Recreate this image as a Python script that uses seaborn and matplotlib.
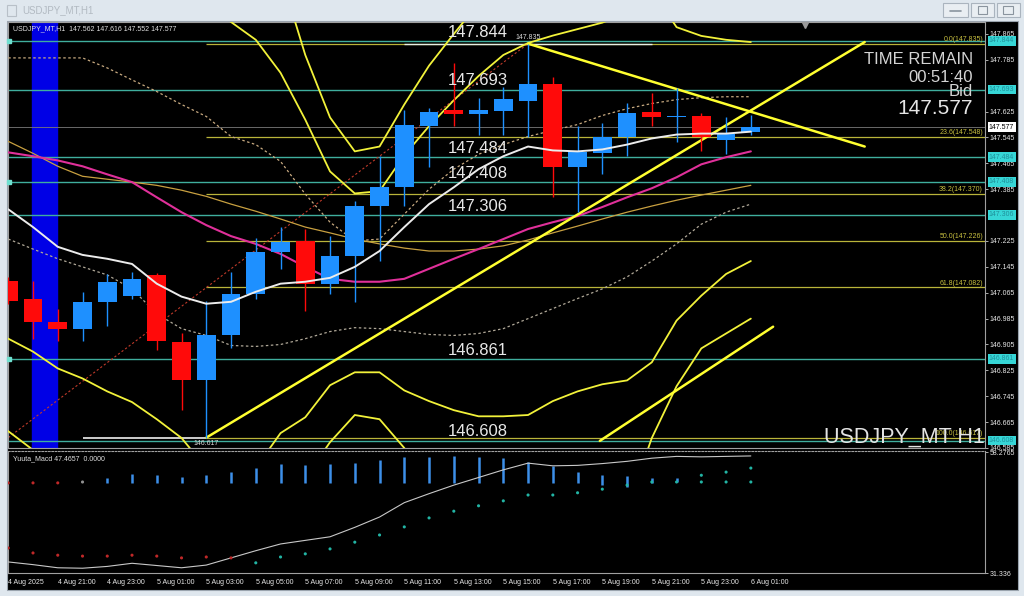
import numpy as np
import pandas as pd
import matplotlib
matplotlib.use("Agg")
import matplotlib.pyplot as plt
import matplotlib.transforms as mtransforms
from matplotlib.patches import Rectangle
import seaborn as sns

# ------------------------------------------
# Data (USDJPY H1)
# ------------------------------------------

# candle index 0 = 4 Aug 19:00 ... 30 = 6 Aug 01:00
tick_idx = list(range(0, 31, 2))
tick_labels = ["4 Aug 2025", "4 Aug 21:00", "4 Aug 23:00", "5 Aug 01:00", "5 Aug 03:00",
               "5 Aug 05:00", "5 Aug 07:00", "5 Aug 09:00", "5 Aug 11:00", "5 Aug 13:00",
               "5 Aug 15:00", "5 Aug 17:00", "5 Aug 19:00", "5 Aug 21:00", "5 Aug 23:00",
               "6 Aug 01:00"]

opens = [147.102, 147.047, 146.973, 146.954, 147.037, 147.056, 147.120, 146.914, 146.794, 146.933,
         147.062, 147.191, 147.225, 147.093, 147.179, 147.333, 147.391, 147.582, 147.631, 147.619,
         147.628, 147.659, 147.711, 147.453, 147.496, 147.548, 147.625, 147.607, 147.610, 147.536,
         147.562]
highs = [147.115, 147.102, 147.016, 147.068, 147.123, 147.130, 147.127, 146.939, 147.040, 147.130,
         147.234, 147.268, 147.262, 147.240, 147.348, 147.487, 147.631, 147.637, 147.776, 147.668,
         147.702, 147.835, 147.733, 147.579, 147.591, 147.653, 147.683, 147.699, 147.622, 147.607,
         147.616]
lows = [147.031, 146.923, 146.917, 146.917, 146.963, 147.047, 146.887, 146.702, 146.617, 146.893,
        147.047, 147.139, 147.007, 147.062, 147.037, 147.163, 147.333, 147.453, 147.579, 147.554,
        147.554, 147.548, 147.360, 147.314, 147.431, 147.487, 147.579, 147.530, 147.502, 147.493,
        147.552]
closes = [147.040, 146.976, 146.954, 147.037, 147.099, 147.108, 146.917, 146.794, 146.933, 147.062,
          147.191, 147.222, 147.093, 147.179, 147.333, 147.391, 147.585, 147.625, 147.619, 147.631,
          147.665, 147.711, 147.453, 147.499, 147.548, 147.622, 147.607, 147.610, 147.548, 147.557,
          147.577]

ma_white = [147.323, 147.268, 147.207, 147.182, 147.170, 147.154, 147.093, 147.053, 147.031, 147.037,
            147.068, 147.093, 147.099, 147.111, 147.145, 147.194, 147.268, 147.339, 147.391, 147.447,
            147.487, 147.517, 147.505, 147.502, 147.508, 147.523, 147.542, 147.554, 147.557, 147.557,
            147.563]
ma_pink = [147.499, 147.487, 147.474, 147.456, 147.431, 147.407, 147.360, 147.314, 147.274, 147.240,
           147.216, 147.185, 147.145, 147.108, 147.099, 147.099, 147.108, 147.139, 147.170, 147.200,
           147.231, 147.262, 147.283, 147.302, 147.330, 147.360, 147.388, 147.422, 147.462, 147.484,
           147.502]
ma_gold = [147.533, 147.496, 147.456, 147.425, 147.416, 147.407, 147.397, 147.382, 147.363, 147.339,
           147.317, 147.293, 147.268, 147.250, 147.231, 147.216, 147.203, 147.194, 147.194, 147.200,
           147.210, 147.228, 147.250, 147.271, 147.293, 147.314, 147.333, 147.351, 147.367, 147.382,
           147.397]
band_up = [147.791, 147.791, 147.791, 147.791, 147.760, 147.723, 147.687, 147.647, 147.610, 147.548,
           147.523, 147.471, 147.370, 147.283, 147.225, 147.231, 147.308, 147.385, 147.447, 147.493,
           147.523, 147.548, 147.567, 147.585, 147.613, 147.634, 147.650, 147.662, 147.668, 147.671,
           147.671]
band_dn = [147.231, 147.200, 147.170, 147.145, 147.120, 147.077, 147.000, 146.954, 146.933, 146.902,
           146.899, 146.905, 146.923, 146.945, 146.957, 146.954, 146.945, 146.936, 146.933, 146.939,
           146.954, 146.985, 147.016, 147.047, 147.077, 147.114, 147.163, 147.216, 147.277, 147.314,
           147.339]

# yellow envelope curves: (first candle index, values)
env_a = (8, [147.960, 147.902, 147.847, 147.745, 147.600, 147.440, 147.372, 147.379, 147.490, 147.580,
             147.660, 147.735, 147.800, 147.837, 147.860, 147.880, 147.900, 147.930])
env_b = (11, [148.050, 147.800, 147.607, 147.502, 147.517, 147.647, 147.767, 147.865, 147.960])
env_d = (26, [148.000, 147.886, 147.859, 147.847, 147.840])
env_e = (10, [146.523, 146.631, 146.680, 146.779, 146.819, 146.819, 146.763, 146.730, 146.702, 146.683,
              146.683, 146.687, 146.730, 146.760, 146.782, 146.794, 146.850, 146.979, 147.056, 147.123,
              147.163])
env_f = (12, [146.493, 146.603, 146.687, 146.674, 146.585, 146.460])
env_g = (25, [146.400, 146.616, 146.776, 146.893, 146.939, 146.985])
env_i = (0, [146.923, 146.883, 146.831, 146.800, 146.760, 146.727, 146.674, 146.616, 146.523])
env_j = (0, [146.637, 146.579, 146.500])

# trend lines (index, price) end points
trend_up = ([8.0, 34.6], [146.617, 147.840])
trend_down = ([21.0, 34.6], [147.835, 147.517])
trend_chan = ([23.9, 30.9], [146.607, 146.960])

sr_levels = [147.844, 147.693, 147.484, 147.408, 147.306, 146.861, 146.608]
fib_names = ["0.0", "23.6", "38.2", "50.0", "61.8", "100.0"]
fib_levels = [147.835, 147.548, 147.370, 147.226, 147.082, 146.617]
bid = 147.577

# right-axis price ticks (those hidden under the level boxes are left out)
price_ticks = [146.585, 146.665, 146.745, 146.825, 146.905, 146.985, 147.065, 147.145, 147.225,
               147.385, 147.465, 147.545, 147.625, 147.785, 147.865]

# MACD pane
macd_signal = [33.8, 33.2, 32.5, 32.4, 32.8, 33.5, 33.0, 32.5, 33.1, 34.7, 36.3, 37.8, 38.6, 39.4, 41.5,
               43.8, 47.0, 49.0, 50.9, 52.6, 54.3, 55.8, 55.2, 55.3, 55.7, 56.2, 56.9, 57.3, 57.2, 57.3,
               57.4]
hist_idx = list(range(4, 28))
hist_top = [52.5, 53.4, 53.2, 52.7, 53.2, 53.8, 54.7, 55.6, 55.4, 55.6, 55.8, 56.5, 57.2, 57.2, 57.4,
            57.2, 56.9, 56.0, 55.2, 53.8, 53.2, 52.9, 52.5, 52.5]
hist_bot = [51.4] * 20 + [50.9, 50.5, 51.4, 51.6]
dot_low = [36.9, 35.8, 35.3, 35.1, 35.1, 35.3, 35.1, 34.7, 34.9, 34.7, 33.6, 34.9, 35.6, 36.7, 38.2,
           39.8, 41.6, 43.6, 45.1, 46.3, 47.4, 48.7, 48.7, 49.2, 50.0, 50.9, 51.6, 51.6, 51.6, 51.6,
           51.6]
dot_up_idx = [0, 1, 2, 3, 28, 29, 30]
dot_up = [51.4, 51.4, 51.4, 51.6, 53.1, 53.8, 54.7]

# ------------------------------------------
# Style
# ------------------------------------------

sns.set_style("dark", {"axes.facecolor": "black", "figure.facecolor": "#dfe7ee"})
plt.rcParams['font.family'] = ['Liberation Sans', 'DejaVu Sans']

W, H = 1024, 596
fig = plt.figure(figsize=(10.24, 5.96), dpi=100, facecolor="#dfe7ee")


def px_axes(x0, y0, x1, y1):
    return fig.add_axes([x0 / W, 1 - y1 / H, (x1 - x0) / W, (y1 - y0) / H])


def fx(x):
    return x / W


def fy(y):
    return 1 - y / H


# window chrome
fig.add_artist(Rectangle((fx(7), fy(590)), (1018 - 7) / W, (590 - 21) / H,
                         transform=fig.transFigure, facecolor="black", edgecolor="#9aa4ae",
                         lw=0.8, zorder=-10))
fig.add_artist(Rectangle((fx(7), fy(16)), 9 / W, 11 / H, transform=fig.transFigure,
                         facecolor="none", edgecolor="#b8c0c8", lw=0.8))
fig.text(fx(22), fy(10), "USDJPY_MT,H1", color="#b2bac2", fontsize=7, va="center")
for bx0, bx1 in [(943, 968), (971, 994), (997, 1020)]:
    fig.add_artist(Rectangle((fx(bx0), fy(17)), (bx1 - bx0) / W, 14 / H,
                             transform=fig.transFigure, facecolor="#e9eef2",
                             edgecolor="#aab4be", lw=0.8))
fig.add_artist(plt.Line2D([fx(950), fx(961)], [fy(11), fy(11)], color="#8a949e", lw=1.2))
fig.add_artist(Rectangle((fx(978), fy(14)), 9 / W, 8 / H, transform=fig.transFigure,
                         facecolor="none", edgecolor="#8a949e", lw=0.8))
fig.add_artist(Rectangle((fx(1003), fy(14)), 10 / W, 8 / H, transform=fig.transFigure,
                         facecolor="none", edgecolor="#8a949e", lw=0.8))

ax = px_axes(8, 22, 985, 448)
axm = px_axes(8, 451, 985, 573)

XMAX = 39.46
df = pd.DataFrame({
    "idx": np.arange(len(opens)),
    "open": opens, "high": highs, "low": lows, "close": closes,
    "ma_white": ma_white, "ma_pink": ma_pink, "ma_gold": ma_gold,
    "band_up": band_up, "band_dn": band_dn,
})

# ------------------------------------------
# Main price pane
# ------------------------------------------

ax.set_facecolor("black")
ax.set_xlim(-0.01, XMAX)
ax.set_ylim(146.591, 147.902)

ax.axvspan(0.97, 1.97, color="#0000e6", zorder=1)

# fib + horizontal levels
for lv in sr_levels:
    ax.axhline(lv, color="#3fae9e", lw=1.0, zorder=2)
ax.hlines(fib_levels, 8, XMAX, colors="#b9b43a", lw=0.9, zorder=2)
ax.hlines(fib_levels[0], 16, 26, colors="#e6efe6", lw=1.0, zorder=2)
ax.hlines(fib_levels[-1], 3, 8, colors="#f0f0f0", lw=1.2, zorder=2)
ax.axhline(bid, color="#7a7a7a", lw=0.6, zorder=2)
ax.plot([0.05, 0.05, 0.05], [sr_levels[0], sr_levels[3], sr_levels[5]], ls="none",
        marker="s", ms=2.5, color="#6fe0d0", zorder=3, clip_on=False)
ax.plot([0, 21], [fib_levels[-1], fib_levels[0]], color="#c03a2a", lw=0.8, ls=(0, (2, 2)), zorder=2)

# moving averages / bands
sns.lineplot(data=df, x="idx", y="band_up", ax=ax, color="#c8aa80", lw=0.9, ls=(0, (2, 2)), zorder=3)
sns.lineplot(data=df, x="idx", y="band_dn", ax=ax, color="#b0a898", lw=0.9, ls=(0, (2, 2)), zorder=3)
sns.lineplot(data=df, x="idx", y="ma_gold", ax=ax, color="#c8a040", lw=0.9, zorder=3)
sns.lineplot(data=df, x="idx", y="ma_pink", ax=ax, color="#e0309a", lw=1.5, zorder=3)
sns.lineplot(data=df, x="idx", y="ma_white", ax=ax, color="#ececec", lw=1.4, zorder=6)

for start, vals in [env_a, env_b, env_d, env_e, env_f, env_g, env_i, env_j]:
    cdf = pd.DataFrame({"idx": np.arange(start, start + len(vals)), "v": vals})
    sns.lineplot(data=cdf, x="idx", y="v", ax=ax, color="#f2f23a", lw=1.3, zorder=4)

for xs, ys in [trend_up, trend_down, trend_chan]:
    ax.plot(xs, ys, color="#ffff30", lw=1.8, zorder=4)

# candles
up = np.array(closes) >= np.array(opens)
cols = np.where(up, "#1e90ff", "#ff0a0a")
ax.vlines(df["idx"], df["low"], df["high"], colors=cols, lw=1.0, zorder=5)
body_lo = np.minimum(df["open"], df["close"])
body_h = np.maximum(np.abs(df["close"] - df["open"]), 0.0025)
ax.bar(df["idx"], body_h, bottom=body_lo, width=0.76, color=cols, zorder=5, lw=0)

# texts
for lv in sr_levels:
    ax.annotate(f"{lv:.3f}", (17.77, lv), xytext=(0, 0.8), textcoords="offset points",
                color="#e8e8e8", fontsize=12, va="bottom", ha="left", zorder=8)
ax.annotate("147.835", (21, 147.835), xytext=(0, 2), textcoords="offset points",
            color="#d8d8d8", fontsize=5, ha="center", va="bottom", zorder=8)
ax.annotate("146.617", (8, 146.617), xytext=(0, -1.5), textcoords="offset points",
            color="#d8d8d8", fontsize=5, ha="center", va="top", zorder=8)
for nm, lv in zip(fib_names, fib_levels):
    ax.annotate(f"{nm}({lv:.3f})", (XMAX - 0.08, lv), xytext=(0, 0.5), textcoords="offset points",
                color="#c8c040", fontsize=5, ha="right", va="bottom", zorder=8)

ax.text(0.005, 0.983, "USDJPY_MT,H1  147.562 147.616 147.552 147.577", transform=ax.transAxes,
        color="#e0e0e0", fontsize=5, va="center", ha="left", zorder=9)
fig.text(fx(973), fy(60), "TIME REMAIN", color="#d4d4d4", fontsize=12, ha="right", va="center")
fig.text(fx(973), fy(78), "00:51:40", color="#d4d4d4", fontsize=12, ha="right", va="center")
fig.text(fx(973), fy(92), "Bid", color="#d4d4d4", fontsize=12, ha="right", va="center")
fig.text(fx(973), fy(109), "147.577", color="#e6e6e6", fontsize=15, ha="right", va="center")
fig.text(fx(985), fy(437), "USDJPY_MT H1", color="#e4e4e4", fontsize=15.5, ha="right", va="center")
ax.plot([32.2], [147.892], marker="v", ms=4, color="#9a9a9a", clip_on=False, zorder=9)

# axis
ax.set_xticks([])
ax.set_yticks(price_ticks)
ax.set_yticklabels([f"{t:.3f}" for t in price_ticks])
ax.yaxis.tick_right()
ax.tick_params(axis="y", colors="#c8c8c8", labelcolor="#e8e8e8", labelsize=5, length=2, pad=1.5,
               width=0.6)
ax.set_xlabel("")
ax.set_ylabel("")
for sp in ax.spines.values():
    sp.set_color("#a0a0a0")
    sp.set_linewidth(0.8)

blend = mtransforms.blended_transform_factory(ax.transAxes, ax.transData)
for lv in sr_levels:
    ax.text(1.004, lv, f"{lv:.3f}", transform=blend, fontsize=5, color="#1f8f9a", va="center",
            ha="left", zorder=10, bbox=dict(boxstyle="square,pad=0.2", fc="#36d6d6", ec="none"))
ax.text(1.004, bid, f"{bid:.3f}", transform=blend, fontsize=5, color="black", va="center",
        ha="left", zorder=10, bbox=dict(boxstyle="square,pad=0.2", fc="white", ec="none"))

# ------------------------------------------
# MACD pane
# ------------------------------------------

axm.set_facecolor("black")
axm.set_xlim(-0.01, XMAX)
axm.set_ylim(31.336, 58.5)

axm.vlines(hist_idx, hist_bot, hist_top, colors="#3d8fe8", lw=1.8, zorder=3)
sig = pd.DataFrame({"idx": np.arange(len(macd_signal)), "sig": macd_signal})
sns.lineplot(data=sig, x="idx", y="sig", ax=axm, color="#c8c8c8", lw=0.8, zorder=4)

low_df = pd.DataFrame({"idx": np.arange(len(dot_low)), "v": dot_low,
                       "kind": ["dn" if i < 10 else "up" for i in range(len(dot_low))]})
sns.scatterplot(data=low_df, x="idx", y="v", hue="kind", palette={"dn": "#c02828", "up": "#22b4a4"},
                s=5, linewidth=0, legend=False, ax=axm, zorder=5)
up_df = pd.DataFrame({"idx": dot_up_idx, "v": dot_up,
                      "kind": ["dn", "dn", "dn", "flat", "up", "up", "up"]})
sns.scatterplot(data=up_df, x="idx", y="v", hue="kind",
                palette={"dn": "#c02828", "flat": "#909090", "up": "#22b4a4"},
                s=5, linewidth=0, legend=False, ax=axm, zorder=5)

axm.text(0.005, 0.94, "Yuuta_Macd 47.4657  0.0000", transform=axm.transAxes, color="#e0e0e0",
         fontsize=5, va="center", ha="left")

axm.set_xticks(tick_idx)
axm.set_xticklabels(tick_labels)
for lbl in axm.get_xticklabels():
    lbl.set_ha("left")
axm.tick_params(axis="x", colors="#c8c8c8", labelcolor="#e8e8e8", labelsize=5, length=3, pad=1.5,
                width=0.6)
axm.set_yticks([31.336, 58.2765])
axm.set_yticklabels(["31.336", "58.2765"])
for lbl in axm.get_yticklabels():
    lbl.set_va("top")
axm.yaxis.tick_right()
axm.tick_params(axis="y", colors="#c8c8c8", labelcolor="#e8e8e8", labelsize=5, length=2, pad=1.5,
                width=0.6)
axm.set_xlabel("")
axm.set_ylabel("")
for sp in axm.spines.values():
    sp.set_color("#a0a0a0")
    sp.set_linewidth(0.8)
axm.spines["top"].set_linestyle((0, (1.5, 1.5)))

fig.savefig("out.png", dpi=100, facecolor=fig.get_facecolor())
